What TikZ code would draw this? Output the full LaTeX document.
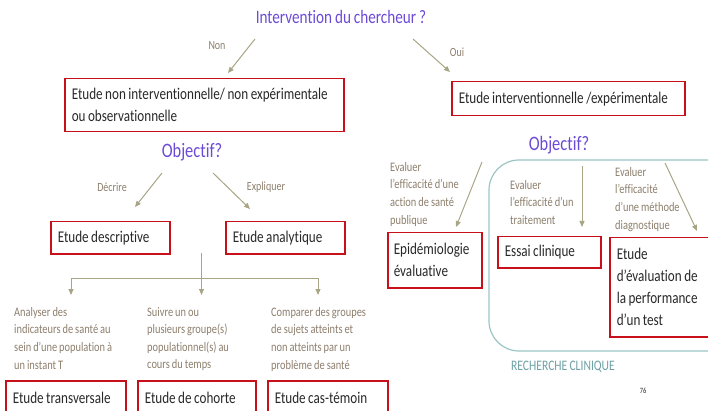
\documentclass[tikz,border=0pt]{standalone}
\usepackage{fontspec}
\setmainfont{Carlito}[FakeStretch=0.8, WordSpace=0.85, Ligatures={NoCommon}]
\usetikzlibrary{arrows.meta}
\definecolor{ttlpurple}{RGB}{108,74,214}
\definecolor{lblgray}{RGB}{140,126,108}
\definecolor{arrgray}{RGB}{168,164,134}
\definecolor{boxred}{RGB}{200,16,26}
\definecolor{txtdark}{RGB}{40,40,40}
\definecolor{rcteal}{RGB}{155,196,196}
\definecolor{rctext}{RGB}{110,160,165}
\hyphenpenalty=10000
\tikzset{
  boxnode/.style={draw=boxred, line width=1.5pt, anchor=north west, align=left,
    inner xsep=7pt, inner ysep=0pt, text=txtdark,
    font=\fontsize{16.4}{22}\selectfont,
    execute at begin node={\spaceskip=0pt\xspaceskip=0pt}},
  graytxt/.style={anchor=north west, align=left, inner sep=0pt, text=lblgray,
    font=\fontsize{13}{17.6}\selectfont,
    execute at begin node={\spaceskip=0pt\xspaceskip=0pt}},
  lbl/.style={text=lblgray, inner sep=0pt, font=\fontsize{12.5}{14}\selectfont},
  ttl/.style={text=ttlpurple, inner sep=0pt, font=\fontsize{19}{21}\selectfont},
  arr/.style={draw=arrgray, line width=1pt, -{Triangle[length=6pt,width=5pt]}},
  ln/.style={draw=arrgray, line width=1pt}
}
\begin{document}
\begin{tikzpicture}[x=1pt,y=-1pt]
\useasboundingbox (0,0) rectangle (708,411);
\clip (0,0) rectangle (708,411);

% titles
\node[ttl] (t0) at (341,17) {Intervention du chercheur ?};
\node[ttl, font=\fontsize{20.5}{22}\selectfont] (obj1) at (192,152) {Objectif?};
\node[ttl, font=\fontsize{20.5}{22}\selectfont] (obj2) at (559,145) {Objectif?};

% labels
\node[lbl] (lnon) at (217,46) {Non};
\node[lbl] (loui) at (457,52) {Oui};
\node[lbl] (ldec) at (112,187) {Décrire};
\node[lbl] (lexp) at (266,187) {Expliquer};

% boxes
\node[boxnode, text width=265pt, minimum height=53pt] (b1) at (64,78)
  {Etude non interventionnelle/ non expérimentale\\ou observationnelle};
\node[boxnode, text width=219pt, minimum height=34pt] (b2) at (451,81)
  {Etude interventionnelle /expérimentale};
\node[boxnode, text width=105pt, minimum height=32pt] (bdesc) at (50,221)
  {Etude descriptive};
\node[boxnode, text width=105pt, minimum height=32pt] (bana) at (225,221)
  {Etude analytique};
\node[boxnode, text width=106pt, minimum height=35pt] (btrans) at (5,380)
  {Etude transversale};
\node[boxnode, text width=104pt, minimum height=35pt] (bcoh) at (137,380)
  {Etude de cohorte};
\node[boxnode, text width=106pt, minimum height=35pt] (bcas) at (267,380)
  {Etude cas-témoin};
\node[boxnode, inner xsep=6pt, text width=82pt, minimum height=55pt] (bepi) at (387,232)
  {Epidémiologie\\évaluative};
\node[boxnode, text width=89pt, minimum height=31pt] (bess) at (497,236)
  {Essai clinique};
\node[boxnode, text width=100pt, minimum height=99pt] (beval) at (609,237)
  {Etude\\d’évaluation de\\la performance\\d’un test};

% gray descriptions
\node[graytxt] (d1) at (14,307)
  {Analyser des\\indicateurs de santé au\\sein d’une population à\\un instant T};
\node[graytxt] (d2) at (147,307)
  {Suivre un ou\\plusieurs groupe(s)\\populationnel(s) au\\cours du temps};
\node[graytxt] (d3) at (271,307)
  {Comparer des groupes\\de sujets atteints et\\non atteints par un\\problème de santé};
\node[graytxt] (e1) at (390,162)
  {Evaluer\\l’efficacité d’une\\action de santé\\publique};
\node[graytxt] (e2) at (510,180)
  {Evaluer\\l’efficacité d’un\\traitement};
\node[graytxt] (e3) at (615,167)
  {Evaluer\\l’efficacité\\d’une méthode\\diagnostique};

% recherche clinique frame
\draw[rcteal, line width=1.2pt, rounded corners=30pt] (489,160) rectangle (740,351);
\node[text=rctext, inner sep=0pt, font=\fontsize{14.5}{16}\selectfont] (rc) at (563,367) {RECHERCHE CLINIQUE};
\node[text=txtdark, inner sep=0pt, font=\fontsize{8}{9}\selectfont] (pg) at (643,391) {76};

% arrow coordinates
\coordinate (a1s) at (255,39);  \coordinate (a1e) at (228,73);
\coordinate (a2s) at (413,39);  \coordinate (a2e) at (450,72);
\coordinate (a3s) at (162,173); \coordinate (a3e) at (135,207);
\coordinate (a4s) at (213,173); \coordinate (a4e) at (250,209);
\coordinate (a5s) at (482,162); \coordinate (a5e) at (456,227);
\coordinate (a6s) at (582,166); \coordinate (a6e) at (582,227);
\coordinate (a7s) at (665,163); \coordinate (a7e) at (697,231);
\coordinate (j0) at (201.5,253);
\coordinate (j1) at (201.5,278);
\coordinate (hl) at (71,278);
\coordinate (hr) at (318,278);
\coordinate (k1) at (71,295);
\coordinate (k2) at (201.5,295);
\coordinate (k3) at (318,295);

\draw[arr] (a1s) -- (a1e);
\draw[arr] (a2s) -- (a2e);
\draw[arr] (a3s) -- (a3e);
\draw[arr] (a4s) -- (a4e);
\draw[arr] (a5s) -- (a5e);
\draw[arr] (a6s) -- (a6e);
\draw[arr] (a7s) -- (a7e);
\draw[ln] (j0) -- (j1);
\draw[ln] (hl) -- (hr);
\draw[arr] (hl) -- (k1);
\draw[arr] (j1) -- (k2);
\draw[arr] (hr) -- (k3);
\end{tikzpicture}
\end{document}
